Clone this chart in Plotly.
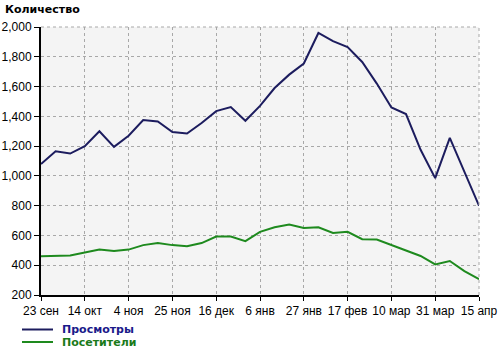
import plotly.graph_objects as go

weeks = list(range(31))
tick_idx = [0, 3, 6, 9, 12, 15, 18, 21, 24, 27, 30]
tick_labels = ["23 сен", "14 окт", "4 ноя", "25 ноя", "16 дек", "6 янв",
               "27 янв", "17 фев", "10 мар", "31 мар", "15 апр"]

views = [1080, 1165, 1150, 1200, 1300, 1195, 1270, 1375, 1365, 1295,
         1285, 1355, 1435, 1462, 1370, 1470, 1590, 1680, 1755, 1960,
         1905, 1865, 1765, 1620, 1460, 1415, 1175, 985, 1255, 1025, 800]
visitors = [460, 460, 465, 485, 505, 495, 505, 535, 550, 535,
            527, 549, 593, 593, 562, 624, 655, 673, 650, 655,
            617, 624, 575, 573, 535, 500, 462, 405, 428, 360, 306]

y_ticks = list(range(200, 2001, 200))

blue = "#1c1c5e"
green = "#1e8a1e"

fig = go.Figure()
fig.add_trace(go.Scatter(x=weeks, y=views, mode="lines", name="Просмотры",
                         line=dict(color=blue, width=2), showlegend=False))
fig.add_trace(go.Scatter(x=weeks, y=visitors, mode="lines", name="Посетители",
                         line=dict(color=green, width=2), showlegend=False))

font = "Liberation Sans, Arial, sans-serif"
bold_font = "DejaVu Sans, Verdana, sans-serif"
fig.update_layout(
    width=500, height=351,
    margin=dict(l=41, r=21, t=27, b=56, autoexpand=False),
    paper_bgcolor="white", plot_bgcolor="#f4f4f4",
    font=dict(family=font, size=12, color="black"),
    showlegend=False,
    xaxis=dict(range=[0, 30], tickvals=tick_idx, ticktext=tick_labels,
               automargin=False,
               showgrid=True, gridcolor="#a8a8a8", griddash="dot", gridwidth=1,
               showline=True, linecolor="black", linewidth=2,
               ticks="outside", ticklen=4, tickcolor="black", zeroline=False,
               tickfont=dict(size=12)),
    yaxis=dict(range=[200, 2000], tickvals=y_ticks, tickformat=",d",
               automargin=False,
               showgrid=True, gridcolor="#a8a8a8", griddash="dot", gridwidth=1,
               showline=True, linecolor="black", linewidth=2,
               ticks="outside", ticklen=5, tickcolor="black", zeroline=False,
               tickfont=dict(size=12)),
)

# dotted top/right frame
fig.add_shape(type="line", xref="paper", yref="paper", x0=0, x1=1, y0=1, y1=1,
              line=dict(color="#a8a8a8", width=1, dash="dot"))
fig.add_shape(type="line", xref="paper", yref="paper", x0=1, x1=1, y0=0, y1=1,
              line=dict(color="#a8a8a8", width=1, dash="dot"))

# title
fig.add_annotation(text="<b>Количество</b>", xref="paper", yref="paper",
                   x=-38/438, y=1 + 17/268, xanchor="left", yanchor="middle",
                   showarrow=False, font=dict(size=11, color="black", family=bold_font))

# manual legend
legend_items = [("Просмотры", blue, "#1a1a8a", 329.5), ("Посетители", green, "#1a7a1a", 342)]
for name, lc, tc, ypx in legend_items:
    yp = (295 - ypx) / 268
    fig.add_shape(type="line", xref="paper", yref="paper",
                  x0=(22 - 41) / 438, x1=(53 - 41) / 438, y0=yp, y1=yp,
                  line=dict(color=lc, width=2))
    fig.add_annotation(text="<b>" + name + "</b>", xref="paper", yref="paper",
                       x=(61 - 41) / 438, y=yp, xanchor="left", yanchor="middle",
                       showarrow=False, borderpad=0,
                       font=dict(size=11, color=tc, family=bold_font))

fig.write_html("out.html")
